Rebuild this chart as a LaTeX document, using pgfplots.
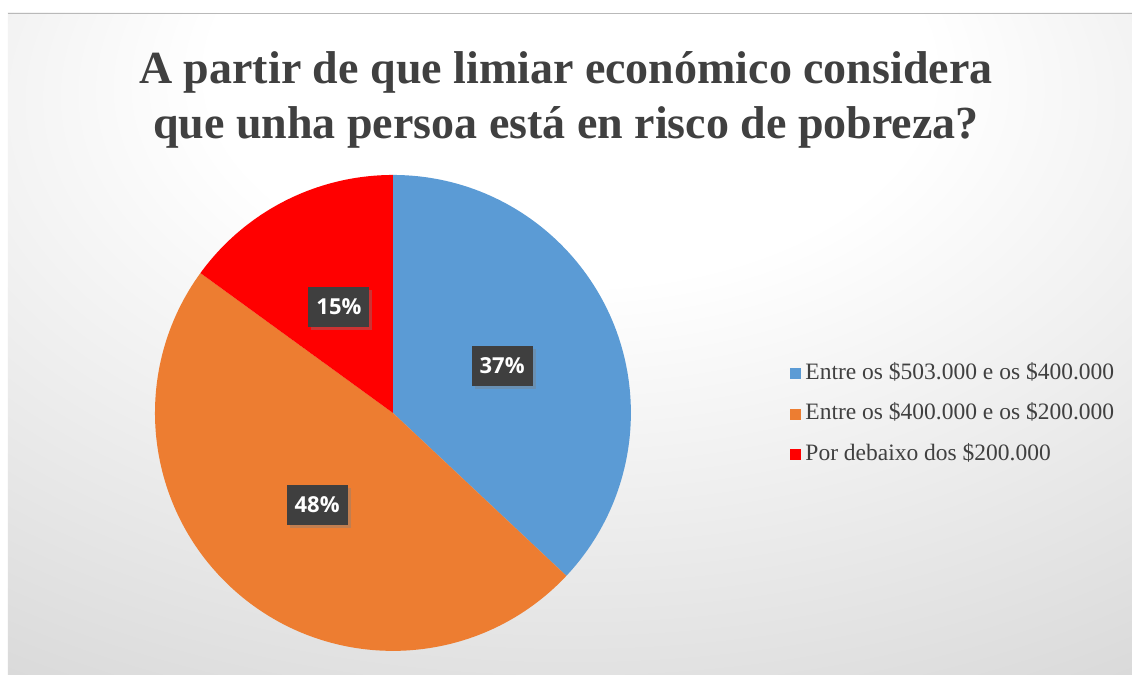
\documentclass[border=0pt]{standalone}
\usepackage{pgfplots}
\pgfplotsset{compat=1.18}
\usepackage{pgfplotstable}
\usepackage{fontspec}
\setmainfont{Liberation Serif}
\newfontfamily\lblfont{Open Sans}
\usetikzlibrary{shadows}

\definecolor{slice0}{HTML}{5B9BD5}
\definecolor{slice1}{HTML}{ED7D31}
\definecolor{slice2}{HTML}{FF0000}
\definecolor{txt}{HTML}{404040}
\definecolor{lblbox}{HTML}{3F3F3F}
\pgfdeclareradialshading{chartbg}{\pgfpoint{0bp}{25bp}}{%
  color(0bp)=(white); color(16bp)=(white); color(48bp)=(gray!32); color(90bp)=(gray!50)}

% shares in percent, clockwise from 12 o'clock
\pgfplotstableread{
slice share
0 37
1 48
2 15
}\piedata

% start, end and middle angle of each slice
\def\acc{0}
\pgfplotsforeachungrouped \i in {0,1,2}{%
  \pgfplotstablegetelem{\i}{share}\of\piedata
  \let\curval\pgfplotsretval
  \pgfmathsetmacro\sta{90-3.6*\acc}%
  \pgfmathsetmacro\ena{90-3.6*(\acc+\curval)}%
  \pgfmathsetmacro\mida{(\sta+\ena)/2}%
  \expandafter\xdef\csname sta\i\endcsname{\sta}%
  \expandafter\xdef\csname ena\i\endcsname{\ena}%
  \expandafter\xdef\csname mida\i\endcsname{\mida}%
  \expandafter\xdef\csname val\i\endcsname{\curval}%
  \pgfmathsetmacro\acc{\acc+\curval}%
}

\begin{document}
\begin{tikzpicture}
\begin{axis}[
  scale only axis, width=1132pt, height=675pt,
  xmin=0, xmax=1132, ymin=0, ymax=675,
  hide axis, clip=false,
  legend cell align=left,
  legend image code/.code={\fill[#1] (0pt,-5pt) rectangle (10pt,5pt);},
  legend style={at={(axis cs:787,261)}, anchor=west, draw=none, fill=none,
    font=\fontsize{23.5}{27}\selectfont, text=txt, row sep=18.5pt,
    nodes={inner sep=0pt, text height=17pt, text depth=5pt},
    /tikz/every odd column/.append style={column sep=5pt}},
]
\fill[white] (axis cs:0,0) rectangle (axis cs:1132,675);
\shade[shading=chartbg] (axis cs:8,0) rectangle (axis cs:1132,662);
\draw[gray!55] (axis cs:8,662) -- (axis cs:1132,662);

\pgfplotsinvokeforeach{0,1,2}{
  \fill[slice#1] (axis cs:393,262) -- ++(\csname sta#1\endcsname:238pt)
    arc[start angle=\csname sta#1\endcsname, end angle=\csname ena#1\endcsname, radius=238pt] -- cycle;
}
\pgfplotsinvokeforeach{0,1,2}{
  \path (axis cs:393,262) ++(\csname mida#1\endcsname:119pt)
    node[fill=lblbox, text=white, font=\lblfont\bfseries\fontsize{22}{26}\selectfont,
      minimum width=61pt, minimum height=40pt, inner sep=0pt,
      drop shadow={shadow xshift=3pt, shadow yshift=-3pt, opacity=0.4}]
    {\csname val#1\endcsname\%};
}

\node[align=center, font=\bfseries\fontsize{46}{55}\selectfont, text=txt]
  at (axis cs:566,575) {A partir de que limiar económico considera\\que unha persoa está en risco de pobreza?};

\addlegendimage{slice0}
\addlegendimage{slice1}
\addlegendimage{slice2}
\legend{Entre os \$503.000 e os \$400.000, Entre os \$400.000 e os \$200.000, Por debaixo dos \$200.000}
\end{axis}
\end{tikzpicture}
\end{document}
